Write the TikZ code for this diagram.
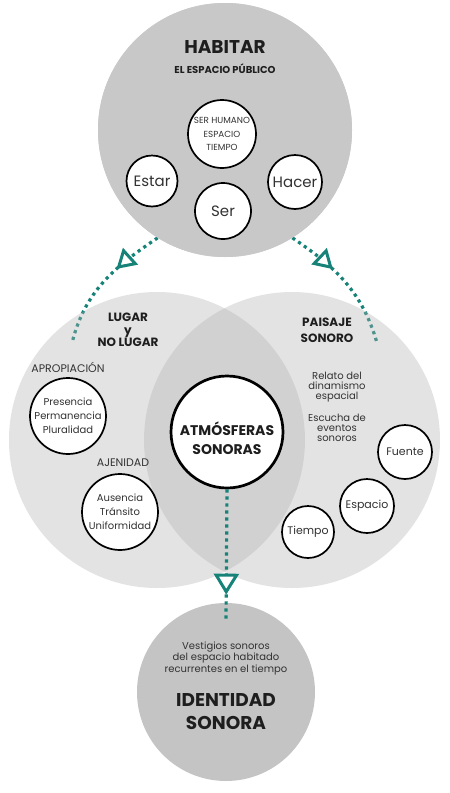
\documentclass[tikz,border=0pt]{standalone}
\usepackage{fontspec}
\setmainfont{Poppins}
\usetikzlibrary{arrows.meta,decorations.markings}
\definecolor{tealc}{RGB}{22,130,120}
\definecolor{gtop}{RGB}{200,200,200}
\definecolor{vennc}{RGB}{178,178,178}
\definecolor{txt}{RGB}{30,30,30}
\definecolor{txtr}{RGB}{50,50,50}
\begin{document}
\begin{tikzpicture}[x=1pt,y=-1pt,
  big/.style={circle, inner sep=0pt, fill=gtop},
  venn/.style={circle, inner sep=0pt, fill=vennc, fill opacity=0.36, minimum size=296pt},
  small/.style={circle, inner sep=0pt, draw=black, line width=1.7pt, fill=white, text=txtr, align=center},
  dotline/.style={draw=tealc, line width=3.2pt, dash pattern=on 3.2pt off 3.8pt},
  lbl/.style={text=txt, align=center, inner sep=0pt}
]
\useasboundingbox (0,0) rectangle (450,793);
% top arrows (under venn circles)
\node[big, minimum size=254pt] (top) at (225,130) {};
\coordinate (la) at (72,343);
\coordinate (ra) at (377,343);
\draw[dotline, postaction={decorate}, decoration={markings, mark=at position 0.37 with {\arrow[tealc]{Triangle[length=19pt, width=22pt, line width=3pt, fill=white]}}}]
  (top.238) to[out=-146, in=76] (la);
\draw[dotline, postaction={decorate}, decoration={markings, mark=at position 0.37 with {\arrow[tealc]{Triangle[length=19pt, width=22pt, line width=3pt, fill=white]}}}]
  (top.-58) to[out=-34, in=106] (ra);
% redraw top circle over arrow starts
\node[big, minimum size=254pt] (topc) at (225,130) {};
% venn circles
\node[venn] (left) at (157,440) {};
\node[venn] (right) at (292,440) {};
% bottom circle
\node[big, minimum size=178pt, fill=gtop!98!black] (bot) at (226,692) {};
% central circle and bottom arrow
\node[small, line width=2.7pt, minimum size=112pt] (atm) at (227,432) {};
\coordinate (be) at (226,621);
\draw[dotline, postaction={decorate}, decoration={markings, mark=at position 0.8 with {\arrow[tealc]{Triangle[length=21pt, width=25pt, line width=3pt, fill=white]}}}]
  (atm.south) -- (be);
\node[lbl, font=\bfseries\fontsize{14}{19}\selectfont] (atmt) at (227,438) {ATMÓSFERAS\\SONORAS};
% top texts
\node[lbl, font=\bfseries\fontsize{18.5}{20}\selectfont] (hab) at (225,47) {HABITAR};
\node[lbl, font=\bfseries\fontsize{10}{11}\selectfont] (esp) at (225,69) {EL ESPACIO PÚBLICO};
\node[small, minimum size=68pt, font=\fontsize{8.8}{13.5}\selectfont] (shet) at (222,134) {SER HUMANO\\ESPACIO\\TIEMPO};
\node[small, minimum size=51pt, font=\fontsize{15}{16}\selectfont] (estar) at (152,181) {Estar};
\node[small, minimum size=56pt, font=\fontsize{15}{16}\selectfont] (ser) at (223,211) {Ser};
\node[small, minimum size=54pt, font=\fontsize{15}{16}\selectfont] (hacer) at (295,182) {Hacer};
% left circle texts
\node[lbl, font=\bfseries\fontsize{12}{12.5}\selectfont] (lugar) at (128,330) {LUGAR\\y\\NO LUGAR};
\node[lbl, text=txtr, font=\fontsize{11}{12}\selectfont] (apro) at (68,367) {APROPIACIÓN};
\node[small, minimum size=76pt, font=\fontsize{10}{14}\selectfont] (pres) at (68,416) {Presencia\\Permanencia\\Pluralidad};
\node[lbl, text=txtr, font=\fontsize{11}{12}\selectfont] (ajen) at (123,463) {AJENIDAD};
\node[small, minimum size=76pt, font=\fontsize{10}{14}\selectfont] (aus) at (120,512) {Ausencia\\Tránsito\\Uniformidad};
% right circle texts
\node[lbl, font=\bfseries\fontsize{12}{16}\selectfont] (pais) at (327,330) {PAISAJE\\SONORO};
\node[lbl, text=txtr, font=\fontsize{10}{10}\selectfont] (rel) at (337,387) {Relato del\\dinamismo\\espacial};
\node[lbl, text=txtr, font=\fontsize{10}{10}\selectfont] (esc) at (337,428) {Escucha de\\eventos\\sonoros};
\node[small, minimum size=54pt, font=\fontsize{11}{12}\selectfont] (fue) at (405,452) {Fuente};
\node[small, minimum size=54pt, font=\fontsize{11}{12}\selectfont] (espa) at (367,506) {Espacio};
\node[small, minimum size=52pt, font=\fontsize{11}{12}\selectfont] (tiem) at (308,532) {Tiempo};
% bottom texts
\node[lbl, text=txtr, font=\fontsize{10}{11.5}\selectfont] (vest) at (226,658) {Vestigios sonoros\\del espacio habitado\\recurrentes en el tiempo};
\node[lbl, font=\bfseries\fontsize{18.5}{23}\selectfont] (iden) at (226,712) {IDENTIDAD\\SONORA};
\end{tikzpicture}
\end{document}
